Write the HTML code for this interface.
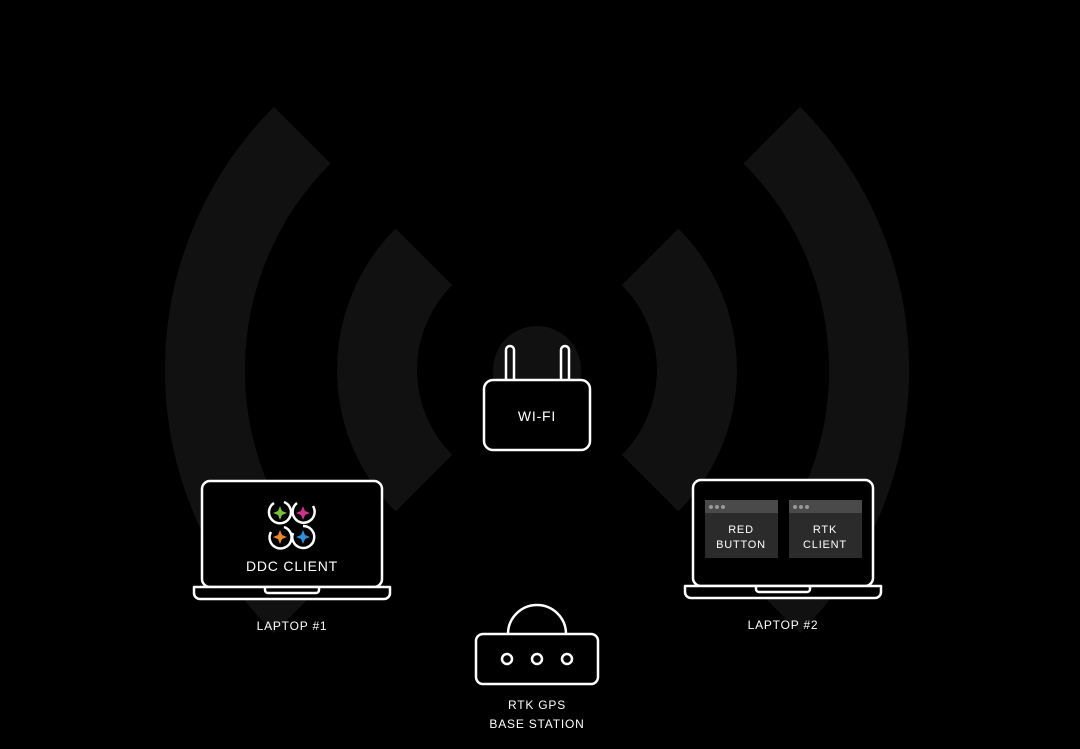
<!DOCTYPE html>
<html><head><meta charset="utf-8"><style>
html,body{margin:0;padding:0;background:#000;width:1080px;height:749px;overflow:hidden}
svg{display:block}
text{font-family:"Liberation Sans",sans-serif;fill:#fff;text-anchor:middle;letter-spacing:0.8px}
</style></head><body>
<svg width="1080" height="749" viewBox="0 0 1080 749">
<rect width="1080" height="749" fill="#000"/>
<g fill="none" stroke="#111" stroke-width="80" stroke-linecap="butt">
<path d="M302.2,135.2 A332,332 0 0 0 302.2,604.8"/>
<path d="M771.8,135.2 A332,332 0 0 1 771.8,604.8"/>
<path d="M423.9,256.9 A160,160 0 0 0 423.9,483.1"/>
<path d="M650.1,256.9 A160,160 0 0 1 650.1,483.1"/>
</g>
<circle cx="537" cy="370" r="44" fill="#111"/>
<g fill="none" stroke="#fff" stroke-width="2.5" stroke-linejoin="round">
<rect x="484" y="380" width="106" height="70" rx="9" fill="#000"/>
<path d="M506,381 V350 a4,4 0 0 1 8,0 V381 M561,381 V350 a4,4 0 0 1 8,0 V381"/>
<rect x="202" y="481" width="180" height="106" rx="8" fill="#000"/>
<path d="M194,587 H390 V593 a6,6 0 0 1 -6,6 H200 a6,6 0 0 1 -6,-6 Z" fill="#000"/>
<path d="M265,587 v3 a3,3 0 0 0 3,3 h48 a3,3 0 0 0 3,-3 v-3"/>
<rect x="693" y="480" width="180" height="106" rx="8" fill="#000"/>
<path d="M685,586 H881 V592 a6,6 0 0 1 -6,6 H691 a6,6 0 0 1 -6,-6 Z" fill="#000"/>
<path d="M756,586 v3 a3,3 0 0 0 3,3 h48 a3,3 0 0 0 3,-3 v-3"/>
<path d="M508,634 a29,29 0 0 1 58,0"/>
<rect x="476" y="634" width="122" height="50" rx="7" fill="#000"/>
<circle cx="507" cy="659" r="5"/><circle cx="537" cy="659" r="5"/><circle cx="567" cy="659" r="5"/>
<g stroke-width="2.5">
<path d="M274,503 a11,11 0 1 0 10,-1"/>
<path d="M297,503 a11,11 0 1 0 16,3"/>
<path d="M271,532 a11,11 0 1 0 13,-5"/>
<path d="M293,533 a11,11 0 1 0 10,-7"/>
</g>
</g>
<g>
<path d="M280,506 l2,5 5,2 -5,2 -2,5 -2,-5 -5,-2 5,-2z" fill="#7bbf3b"/>
<path d="M303,506 l2,5 5,2 -5,2 -2,5 -2,-5 -5,-2 5,-2z" fill="#d0328a"/>
<path d="M280,530 l2,5 5,2 -5,2 -2,5 -2,-5 -5,-2 5,-2z" fill="#e8872e"/>
<path d="M303,530 l2,5 5,2 -5,2 -2,5 -2,-5 -5,-2 5,-2z" fill="#2f8fd8"/>
</g>
<rect x="705" y="500" width="73" height="58" fill="#2b2b2b"/>
<rect x="705" y="500" width="73" height="13" fill="#4a4a4a"/>
<rect x="789" y="500" width="73" height="58" fill="#2b2b2b"/>
<rect x="789" y="500" width="73" height="13" fill="#4a4a4a"/>
<g fill="#999"><circle cx="711" cy="507" r="2"/><circle cx="717" cy="507" r="2"/><circle cx="723" cy="507" r="2"/>
<circle cx="795" cy="507" r="2"/><circle cx="801" cy="507" r="2"/><circle cx="807" cy="507" r="2"/></g>
<text x="537" y="421" font-size="14">WI-FI</text>
<text x="292" y="571" font-size="14">DDC CLIENT</text>
<text x="292" y="630" font-size="12">LAPTOP #1</text>
<text x="783" y="629" font-size="12">LAPTOP #2</text>
<text x="741" y="533" font-size="11">RED</text>
<text x="741" y="548" font-size="11">BUTTON</text>
<text x="825" y="533" font-size="11">RTK</text>
<text x="825" y="548" font-size="11">CLIENT</text>
<text x="537" y="709" font-size="12">RTK GPS</text>
<text x="537" y="728" font-size="12">BASE STATION</text>
</svg>
</body></html>
